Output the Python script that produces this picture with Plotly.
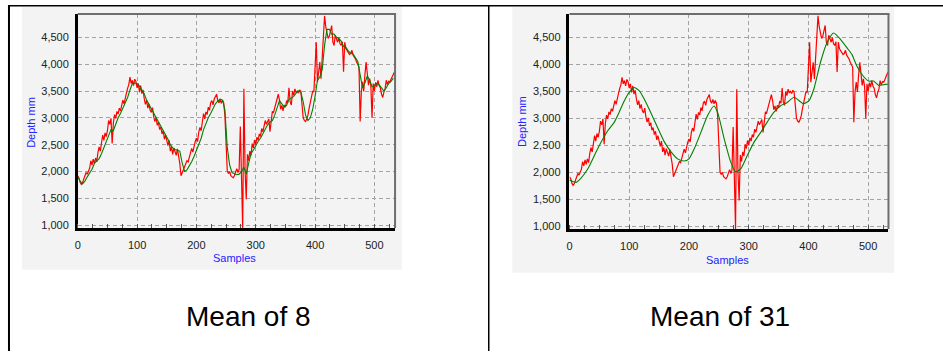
import plotly.graph_objects as go

W, H = 943, 354

# Raw depth readings, one every second sample
red_samples = list(range(0, 535, 2))
depth_raw = [
    1920, 1880, 1800, 1760, 1790, 1850, 1930, 1980, 1950, 2010,
    2060, 2200, 2120, 2230, 2150, 2250, 2180, 2350, 2460, 2380,
    2510, 2680, 2580, 2720, 2650, 2760, 2950, 2880, 2990, 2520,
    2900, 3060, 2990, 3120, 3070, 3180, 3130, 3270, 3330, 3260,
    3400, 3460, 3550, 3620, 3760, 3640, 3700, 3600, 3720, 3680,
    3560, 3640, 3480, 3600, 3450, 3520, 3360, 3250, 3330, 3180,
    3260, 3140, 3100, 3190, 3020, 2930, 3010, 2860, 2920, 2780,
    2830, 2700, 2760, 2600, 2680, 2540, 2480, 2580, 2380, 2460,
    2320, 2440, 2360, 2300, 2420, 2280, 2150, 1920, 1980, 2050,
    2080, 2150, 2200, 2180, 2270, 2330, 2430, 2360, 2500, 2560,
    2620, 2560, 2740, 2820, 2760, 2900, 3080, 2980, 3110, 3060,
    3200, 3140, 3280, 3320, 3240, 3350, 3400, 3440, 3320, 3280,
    3350, 3270, 3330, 3280, 3050, 2380, 2010, 1960, 2000, 1920,
    1900, 1880, 1920, 2010, 2050, 1980, 2040, 2840, 1980, 940,
    3540, 2020, 1480, 2320, 2200, 2380, 2300, 2520, 2440, 2590,
    2500, 2640, 2580, 2700, 2650, 2800, 2740, 2880, 2950, 2880,
    2950, 2980, 2740, 2950, 3120, 3100, 3180, 3260, 3320, 3440,
    3330, 3160, 3230, 3130, 3240, 3200, 3320, 3280, 3560, 3300,
    3240, 3500, 3420, 3540, 3470, 3500, 3460, 3520, 3490, 3250,
    3000, 2950, 2930, 2980, 3050, 3180, 3280, 3400, 3500, 3480,
    3860, 4410, 3670, 3900, 4040, 3730, 4170, 4660, 4900, 4700,
    4600, 4480, 4520, 4630, 4720, 4410, 4350, 4540, 4450, 4410,
    4500, 4380, 4350, 4420, 3860, 4410, 4290, 4250, 4230, 4180,
    4200, 4260, 4170, 4140, 4100, 4040, 3980, 3950, 2930, 3490,
    3670, 3490, 3800, 4040, 3830, 3610, 3730, 3600, 3000, 3640,
    3500, 3660, 3580, 3700, 3600, 3560, 3440, 3380, 3480, 3540,
    3700, 3620, 3680, 3670, 3720, 3780, 3830, 3860,
]

# Running mean over 8 samples
mean8_samples = list(range(0, 533, 4))
depth_mean8 = [
    1900, 1820, 1770, 1820, 1900, 1960, 2040, 2150, 2200, 2240,
    2330, 2440, 2560, 2650, 2780, 2760, 2900, 3000, 3080, 3170,
    3260, 3380, 3520, 3640, 3650, 3640, 3590, 3520, 3450, 3330,
    3250, 3170, 3100, 3000, 2930, 2850, 2760, 2680, 2600, 2500,
    2440, 2410, 2390, 2380, 2160, 2000, 2030, 2100, 2180, 2280,
    2400, 2500, 2620, 2780, 2900, 3000, 3080, 3180, 3260, 3310,
    3350, 3330, 3150, 2450, 2120, 1980, 1960, 1940, 1950, 2000,
    2080, 1950, 2150, 2330, 2400, 2490, 2560, 2620, 2700, 2780,
    2870, 2920, 2950, 3050, 3200, 3320, 3260, 3200, 3230, 3350,
    3370, 3400, 3460, 3500, 3480, 3300, 3050, 2950, 3000, 3160,
    3400, 3700, 3760, 3900, 4350, 4650, 4650, 4560, 4560, 4500,
    4480, 4430, 4330, 4310, 4250, 4200, 4190, 4120, 4050, 3800,
    3560, 3650, 3780, 3700, 3580, 3600, 3640, 3620, 3560, 3500,
    3560, 3640, 3680, 3740,
]

# Running mean over 31 samples
mean31_samples = [
    0, 11, 19, 31, 42, 53, 64, 75, 83, 92,
    100, 108, 117, 125, 136, 147, 159, 170, 181, 192,
    200, 209, 220, 231, 242, 248, 259, 270, 278, 287,
    298, 309, 320, 331, 342, 353, 364, 376, 384, 392,
    401, 409, 420, 431, 442, 454, 465, 473, 481, 492,
    501, 509, 518, 529, 534,
]
depth_mean31 = [
    1860, 1815, 1890, 2070, 2320, 2560, 2770, 2930, 3110, 3330,
    3480, 3570, 3510, 3360, 3110, 2840, 2560, 2380, 2250, 2210,
    2250, 2440, 2740, 3050, 3230, 3110, 2620, 2190, 2010, 2070,
    2320, 2560, 2740, 2930, 3110, 3230, 3290, 3390, 3330, 3270,
    3330, 3540, 4030, 4400, 4580, 4460, 4300, 4180, 3970, 3780,
    3690, 3690, 3610, 3630, 3630,
]

y_ticks = [1000, 1500, 2000, 2500, 3000, 3500, 4000, 4500]
x_ticks = [0, 100, 200, 300, 400, 500]
captions = ["Mean of 8", "Mean of 31"]


def fx(x):
    return x / W


def fy(y):
    return 1 - y / H


panels = [
    dict(bg=(19, 7, 400, 272), plot=(75, 14, 393.3, 230), xr=[0, 534.8], yr=[945, 4938],
         ytitle=(28, 123), xtitle=(232, 260), cap=(246.7, 319),
         smooth=(mean8_samples, depth_mean8)),
    dict(bg=(511, 7, 894, 275), plot=(568.3, 14, 888.3, 231), xr=[0, 534], yr=[950, 4935],
         ytitle=(520.7, 123), xtitle=(726.7, 262), cap=(719, 319),
         smooth=(mean31_samples, depth_mean31)),
]

fig = go.Figure()
shapes = []
annotations = []
layout_axes = {}

GRID = "#a3a3a3"
TICKFONT = dict(family="Liberation Sans, Arial, sans-serif", size=11, color="#222222")
TITLEFONT = dict(family="Liberation Sans, Arial, sans-serif", size=11, color="#2424ff")

for i, p in enumerate(panels):
    n = "" if i == 0 else str(i + 1)
    x0, y0, x1, y1 = p["plot"]
    fig.add_trace(go.Scatter(x=red_samples, y=depth_raw, mode="lines",
                             line=dict(color="#ff0000", width=1.2),
                             xaxis="x" + n, yaxis="y" + n, showlegend=False))
    sx, sy = p["smooth"]
    fig.add_trace(go.Scatter(x=sx, y=sy, mode="lines",
                             line=dict(color="#008000", width=1.1,
                                       shape="spline" if i == 1 else "linear",
                                       smoothing=0.6),
                             xaxis="x" + n, yaxis="y" + n, showlegend=False))

    layout_axes["xaxis" + n] = dict(
        domain=[fx(x0), fx(x1)], anchor="y" + n, range=p["xr"],
        tickvals=x_ticks, ticks="", showgrid=True, gridcolor=GRID, griddash="4px,3px",
        gridwidth=1, zeroline=False, showline=True, linecolor="#000000", linewidth=2.5,
        tickfont=TICKFONT, ticklabelstandoff=5,
        minor=dict(dtick=25, tick0=0, ticks="inside", ticklen=4, tickcolor="#555555",
                   showgrid=False),
    )
    layout_axes["yaxis" + n] = dict(
        domain=[fy(y1), fy(y0)], anchor="x" + n, range=p["yr"],
        tickvals=y_ticks, tickformat=",d", ticks="", showgrid=True, gridcolor=GRID,
        griddash="4px,3px", gridwidth=1, zeroline=False, showline=True,
        linecolor="#000000", linewidth=2.5, tickfont=TICKFONT, ticklabelstandoff=4,
    )

    bx0, by0, bx1, by1 = p["bg"]
    shapes.append(dict(type="rect", xref="paper", yref="paper", layer="below",
                       x0=fx(bx0), x1=fx(bx1), y0=fy(by1), y1=fy(by0),
                       fillcolor="#f3f3f3", line=dict(width=0)))
    # top and right frame edges in grey
    shapes.append(dict(type="line", xref="paper", yref="paper",
                       x0=fx(x0), x1=fx(x1 + 1), y0=fy(y0), y1=fy(y0),
                       line=dict(color="#6e6e6e", width=2)))
    shapes.append(dict(type="line", xref="paper", yref="paper",
                       x0=fx(x1), x1=fx(x1), y0=fy(y0), y1=fy(y1),
                       line=dict(color="#6e6e6e", width=2)))

    tx, ty = p["ytitle"]
    annotations.append(dict(text="Depth mm", x=fx(tx), y=fy(ty), xref="paper", yref="paper",
                            textangle=-90, showarrow=False, font=TITLEFONT,
                            xanchor="center", yanchor="middle"))
    tx, ty = p["xtitle"]
    annotations.append(dict(text="Samples", x=fx(tx), y=fy(ty), xref="paper", yref="paper",
                            showarrow=False, font=TITLEFONT,
                            xanchor="center", yanchor="middle"))
    cx, cy = p["cap"]
    annotations.append(dict(text=captions[i], x=fx(cx), y=fy(cy), xref="paper", yref="paper",
                            showarrow=False,
                            font=dict(family="Liberation Sans, Arial, sans-serif", size=28,
                                      color="#000000"),
                            xanchor="center", yanchor="middle"))

# table rules around the two cells
shapes.append(dict(type="line", xref="paper", yref="paper", x0=fx(5), x1=1,
                   y0=fy(5.8), y1=fy(5.8), line=dict(color="#000000", width=1.5)))
shapes.append(dict(type="line", xref="paper", yref="paper", x0=fx(6), x1=fx(6),
                   y0=fy(5), y1=0, line=dict(color="#000000", width=2)))
shapes.append(dict(type="line", xref="paper", yref="paper", x0=fx(487.3), x1=fx(487.3),
                   y0=fy(5), y1=0, line=dict(color="#000000", width=1.5)))

fig.update_layout(
    width=W, height=H, margin=dict(l=0, r=0, t=0, b=0),
    paper_bgcolor="#ffffff", plot_bgcolor="#f3f3f3",
    shapes=shapes, annotations=annotations, **layout_axes,
)

fig.write_html("out.html")
